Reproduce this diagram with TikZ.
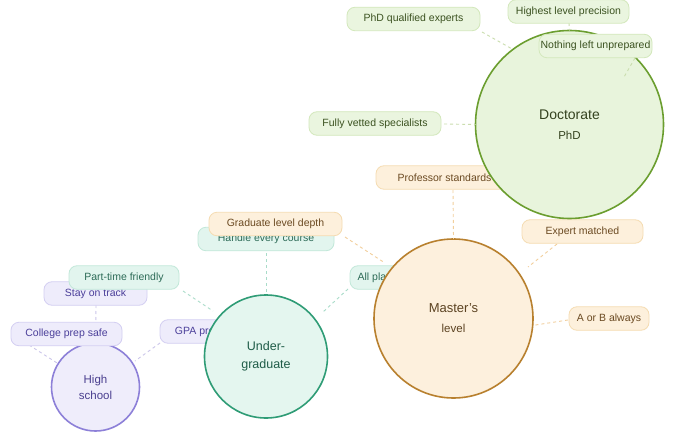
\documentclass[tikz,border=0pt]{standalone}
\usepackage{fontspec}
\setmainfont{Liberation Sans}
\definecolor{dfill}{HTML}{E8F4DC}
\definecolor{ddraw}{HTML}{6B9E2F}
\definecolor{dtext}{HTML}{34421F}
\definecolor{dlfill}{HTML}{EAF5DF}
\definecolor{dldraw}{HTML}{D3E8BC}
\definecolor{dltext}{HTML}{3B5220}
\definecolor{dcon}{HTML}{CADDAE}
\definecolor{mfill}{HTML}{FDF0DD}
\definecolor{mdraw}{HTML}{B8802E}
\definecolor{mtext}{HTML}{5C4322}
\definecolor{mlfill}{HTML}{FDF0DC}
\definecolor{mldraw}{HTML}{F5DCB2}
\definecolor{mltext}{HTML}{6B4A22}
\definecolor{mcon}{HTML}{F2CF9C}
\definecolor{ufill}{HTML}{E4F6EF}
\definecolor{udraw}{HTML}{2F9C76}
\definecolor{utext}{HTML}{1F5C48}
\definecolor{ulfill}{HTML}{E2F5EE}
\definecolor{uldraw}{HTML}{C2E8D9}
\definecolor{ultext}{HTML}{2D6B57}
\definecolor{ucon}{HTML}{A9DCC9}
\definecolor{hfill}{HTML}{EFEDFB}
\definecolor{hdraw}{HTML}{8D80D8}
\definecolor{htext}{HTML}{4A3F8F}
\definecolor{hlfill}{HTML}{EEECFB}
\definecolor{hldraw}{HTML}{D4CFF2}
\definecolor{hltext}{HTML}{4B3F9A}
\definecolor{hcon}{HTML}{CBC5EA}
\tikzset{
  lab/.style={draw, rounded corners=8pt, line width=0.8pt, minimum height=23.5pt,
    inner sep=0pt, font=\fontsize{10.5}{12}\selectfont},
  dlab/.style={lab, fill=dlfill, draw=dldraw, text=dltext},
  mlab/.style={lab, fill=mlfill, draw=mldraw, text=mltext},
  ulab/.style={lab, fill=ulfill, draw=uldraw, text=ultext},
  hlab/.style={lab, fill=hlfill, draw=hldraw, text=hltext},
  circ/.style={circle, line width=1.6pt, inner sep=0pt, outer sep=0pt, align=center},
  con/.style={dash pattern=on 3pt off 3pt, line width=0.9pt},
}
\begin{document}
\begin{tikzpicture}[x=1pt,y=-1pt]
\useasboundingbox[fill=white] (0,0) rectangle (682,441);

% ---------- High school group
\node[circ, fill=hfill, draw=hdraw, text=htext, minimum size=88pt,
  font=\fontsize{11.5}{16}\selectfont] (hs) at (95.5,387) {High\\school};
\coordinate (hsA) at (160,343);
\coordinate (hsAe) at (135,361);
\coordinate (hsB) at (96,305);
\coordinate (hsC) at (29,345);
\draw[con, hcon] (hsA) -- (hsAe);
\draw[con, hcon] (hsB) -- (hs.90);
\draw[con, hcon] (hsC) -- (hs.148);
\node[hlab, minimum width=98pt] (gpa) at (209,331.5) {GPA protected};
\node[hlab, minimum width=103pt] (stay) at (95.5,293.5) {Stay on track};
\node[hlab, minimum width=111pt] (coll) at (66.5,334) {College prep safe};

% ---------- Undergraduate group
\node[circ, fill=ufill, draw=udraw, text=utext, minimum size=123pt,
  font=\fontsize{12.5}{18}\selectfont] (ug) at (266,356.5) {Under-\\graduate};
\coordinate (ugA) at (266,253);
\coordinate (ugB) at (348,289);
\coordinate (ugBe) at (323,312);
\coordinate (ugC) at (183,291);
\coordinate (ugCe) at (213,311);
\draw[con, ucon] (ugA) -- (ug.90);
\draw[con, ucon] (ugB) -- (ugBe);
\draw[con, ucon] (ugC) -- (ugCe);
\node[ulab, minimum width=136pt] (hand) at (266,239) {Handle every course};
\node[ulab, minimum width=73pt] (allp) at (386.5,277.5) {All platforms};
\node[ulab, minimum width=110pt] (part) at (124,277.5) {Part-time friendly};

% ---------- Master's group
\node[circ, fill=mfill, draw=mdraw, text=mtext, minimum size=159pt,
  font=\fontsize{13}{20}\selectfont] (mas) at (453.5,318.5)
  {Master{\char"0027}s\\{\fontsize{11.5}{20}\selectfont level}};
\coordinate (mA) at (453,190);
\coordinate (mB) at (557,244);
\coordinate (mBe) at (528,267);
\coordinate (mC) at (568,320);
\coordinate (mD) at (345,237);
\coordinate (mDe) at (385,263);
\draw[con, mcon] (mA) -- (mas.90);
\draw[con, mcon] (mB) -- (mBe);
\draw[con, mcon] (mC) -- (mas.-5);
\draw[con, mcon] (mD) -- (mDe);
\node[mlab, minimum width=137pt] (prof) at (444.5,177.5) {Professor standards};
\node[mlab, minimum width=121pt] (expm) at (582.5,231.5) {Expert matched};
\node[mlab, minimum width=80pt] (aorb) at (609,318.5) {A or B always};
\node[mlab, minimum width=133pt] (grad) at (275.5,224) {Graduate level depth};

% ---------- Doctorate group
\node[circ, fill=dfill, draw=ddraw, text=dtext, minimum size=188pt,
  font=\fontsize{14}{20}\selectfont] (doc) at (569.5,124.5)
  {Doctorate\\{\fontsize{11.5}{20}\selectfont PhD}};
\coordinate (dA) at (482,32);
\coordinate (dB) at (569,23);
\coordinate (dC) at (635,58);
\coordinate (dCe) at (624,77);
\coordinate (dD) at (444,124);
\draw[con, dcon] (dA) -- (doc.127);
\draw[con, dcon] (dB) -- (doc.90);
\draw[con, dcon] (dC) -- (dCe);
\draw[con, dcon] (dD) -- (doc.180);
\node[dlab, minimum width=133pt] (phdq) at (413.5,19) {PhD qualified experts};
\node[dlab, minimum width=121pt] (high) at (568.5,11.5) {Highest level precision};
\node[dlab, minimum width=113pt] (noth) at (595.5,46) {Nothing left unprepared};
\node[dlab, minimum width=132pt] (full) at (375,123.5) {Fully vetted specialists};
\end{tikzpicture}
\end{document}
